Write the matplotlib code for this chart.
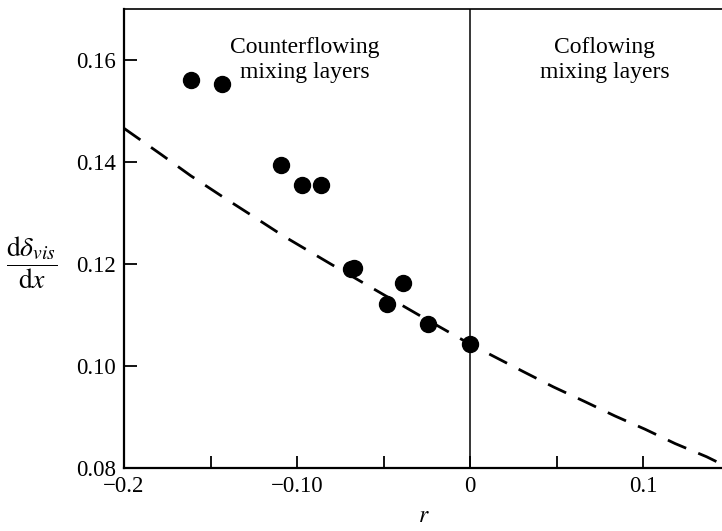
import numpy as np
import matplotlib as mpl
mpl.use("agg")
import matplotlib.pyplot as plt
from matplotlib.ticker import FixedLocator, FixedFormatter

plt.rcParams['font.family'] = ['Liberation Serif', 'DejaVu Serif']
plt.rcParams['mathtext.fontset'] = 'stix'

# measured points
r_pts = [-0.161, -0.1435, -0.1092, -0.0969, -0.0861, -0.0690, -0.0671,
         -0.0386, -0.0478, -0.0241, 0.0]
d_pts = [0.1560, 0.1552, 0.1395, 0.1354, 0.1354, 0.1190, 0.1193,
         0.1162, 0.1122, 0.1082, 0.1043]

# dashed curve
r_line = [-0.2, -0.1782, -0.1614, -0.1435, -0.1256, -0.1079, -0.08, -0.05,
          -0.025, 0.0, 0.0131, 0.0308, 0.0482, 0.0665, 0.0838, 0.1012,
          0.1185, 0.1368, 0.15]
d_line = [0.1466, 0.1414, 0.1373, 0.1333, 0.1294, 0.1255, 0.1199, 0.1140,
          0.1091, 0.1043, 0.1020, 0.0989, 0.0959, 0.0930, 0.0902, 0.0876,
          0.0848, 0.0822, 0.0800]

xticks = [-0.2, -0.1, 0.0, 0.1]
xticklabels = ['\u22120.2', '\u22120.10', '0', '0.1']
xminor = [-0.15, -0.05, 0.05]
yticks = [0.08, 0.10, 0.12, 0.14, 0.16]
yticklabels = ['0.08', '0.10', '0.12', '0.14', '0.16']

fig = plt.figure(figsize=(7.22, 5.31), dpi=100)
ax = fig.add_axes([124/722, 63/531, 605.5/722, 459/531])

ax.plot(r_line, d_line, color='black', lw=2.0, dashes=(7.2, 4.7))
ax.plot(r_pts, d_pts, 'o', color='black', ms=11.5, zorder=3)
ax.axvline(0, color='black', lw=1.1)

ax.set_xlim(-0.2, 0.15)
ax.set_ylim(0.08, 0.17)

ax.xaxis.set_major_locator(FixedLocator(xticks))
ax.xaxis.set_major_formatter(FixedFormatter(xticklabels))
ax.xaxis.set_minor_locator(FixedLocator(xminor))
ax.yaxis.set_major_locator(FixedLocator(yticks))
ax.yaxis.set_major_formatter(FixedFormatter(yticklabels))
ax.tick_params(which='both', direction='in', length=9, width=1.3,
               labelsize=16.5, colors='black')
ax.tick_params(axis='x', pad=6)
ax.tick_params(axis='y', pad=6)

ax.spines['right'].set_visible(False)
ax.spines['left'].set_linewidth(1.6)
ax.spines['bottom'].set_linewidth(1.6)
ax.spines['top'].set_linewidth(1.2)

ax.set_xlabel(r'$r$', fontsize=17)
ax.xaxis.set_label_coords((424-124)/605.5, -0.083)
ax.text(-0.152, 0.447, r'$\dfrac{\mathrm{d}\delta_{vis}}{\mathrm{d}x}$',
        transform=ax.transAxes, ha='center', va='center', fontsize=20)

ax.text(-0.0954, 0.1600, 'Counterflowing\nmixing layers', ha='center',
        va='center', fontsize=17, linespacing=1.3)
ax.text(0.0779, 0.1600, 'Coflowing\nmixing layers', ha='center',
        va='center', fontsize=17, linespacing=1.3)

fig.savefig('out.png', dpi=100)
